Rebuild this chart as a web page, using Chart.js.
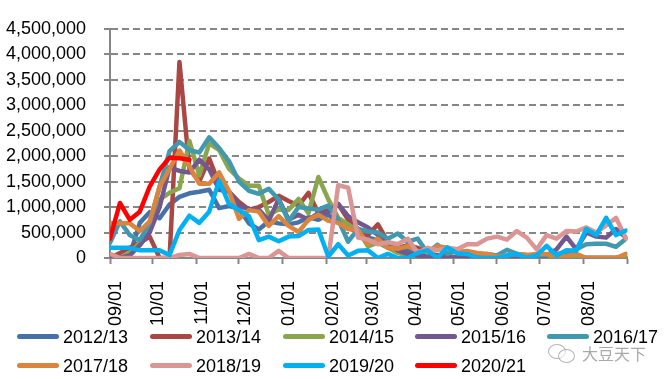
<!DOCTYPE html>
<html>
<head>
<meta charset="utf-8">
<script src="https://cdn.jsdelivr.net/npm/chart.js@4.4.1/dist/chart.umd.min.js"></script>
<style>
  html, body { margin: 0; padding: 0; background: #fff; }
  #wrap { position: relative; width: 666px; height: 379px; overflow: hidden; }
  #c { position: absolute; left: 0; top: 0; }
  .lg { position: absolute; height: 24px; font: 18px "Liberation Sans", Arial, sans-serif; color: #000; white-space: nowrap; }
  .lg .ln { position: absolute; left: 0; top: 9px; width: 42px; height: 5px; border-radius: 3px; }
  .lg .tx { position: absolute; left: 46px; top: 0; line-height: 24px; }
  #wm { position: absolute; left: 546px; top: 340px; width: 110px; height: 26px; color: rgba(140,140,140,0.75); font: 16px "Noto Sans CJK SC", sans-serif; }
  #wm .b1 { position: absolute; left: 2px; top: 4px; width: 16px; height: 13px; border: 1.5px solid rgba(150,150,150,0.7); border-radius: 50%; }
  #wm .b2 { position: absolute; left: 12px; top: 9px; width: 15px; height: 12px; border: 1.5px solid rgba(150,150,150,0.7); border-radius: 50%; background: rgba(255,255,255,0.6); }
  #wm .t { position: absolute; left: 36px; top: 1px; line-height: 24px; }
</style>
</head>
<body>
<div id="wrap">
  <canvas id="c" width="666" height="379"></canvas>
  <div id="legend"></div>
  <div id="wm"><span class="b1"></span><span class="b2"></span><span class="t">大豆天下</span></div>
</div>
<script>
// ---- x categories: day offset of each weekly point from 09/01 ----
const weekDays = [0,7,14,21,28,35,42,49,56,63,70,77,84,91,98,105,112,119,126,133,140,147,154,161,168,175,182,189,196,203,210,217,224,231,238,245,252,259,266,273,280,287,294,301,308,315,322,329,336,343,350,357,364];

// ---- month tick positions (days from 09/01) and labels ----
const monthDays = [0,30,61,91,122,153,181,212,242,273,303,334,365];
const monthLabels = ['09/01','10/01','11/01','12/01','01/01','02/01','03/01','04/01','05/01','06/01','07/01','08/01',''];

// ---- series ----
const seriesNames = ['2012/13','2013/14','2014/15','2015/16','2016/17','2017/18','2018/19','2019/20','2020/21'];
const seriesColors = ['#4572A7','#AA4643','#89A54E','#71588F','#4198AF','#DB843D','#DA9694','#00B0F0','#FF0000'];

const s2012 = [20000,0,50000,690000,900000,780000,1050000,1200000,1270000,1300000,1340000,980000,1020000,970000,680000,560000,720000,680000,660000,700000,800000,750000,850000,700000,600000,500000,400000,350000,300000,200000,150000,100000,80000,50000,30000,20000,10000,20000,10000,0,20000,10000,0,0,10000,0,0,10000,0,0,0,0,0];
const s2013 = [0,100000,200000,300000,420000,0,0,3850000,1750000,1500000,1950000,1450000,1300000,1100000,950000,1000000,1100000,1220000,1120000,1030000,1280000,880000,940000,1060000,750000,570000,450000,660000,320000,200000,250000,200000,100000,50000,20000,0,0,0,0,0,0,0,0,0,0,0,0,0,0,0,0,0,0];
const s2014 = [50000,0,100000,300000,600000,1150000,1280000,1370000,2300000,1620000,2250000,2120000,1750000,1560000,1420000,1420000,850000,950000,940000,1160000,880000,1590000,1150000,790000,660000,540000,230000,300000,200000,100000,50000,30000,20000,0,0,0,0,0,0,0,0,0,0,0,0,0,0,30000,0,0,0,0,0];
const s2015 = [0,0,50000,250000,500000,1000000,1780000,1710000,1680000,1930000,1740000,1340000,1300000,1030000,950000,950000,730000,1160000,750000,850000,750000,880000,900000,1060000,820000,700000,600000,450000,300000,150000,80000,50000,30000,0,0,0,0,0,0,0,0,0,0,0,50000,170000,420000,170000,500000,420000,400000,570000,400000];
const s2016 = [300000,720000,450000,350000,690000,1400000,2100000,2280000,2120000,2070000,2370000,2160000,1900000,1500000,1320000,1260000,1360000,1150000,720000,1000000,970000,950000,1030000,750000,320000,570000,520000,500000,380000,480000,320000,380000,100000,260000,80000,150000,100000,60000,80000,50000,160000,80000,60000,50000,60000,80000,100000,170000,270000,280000,280000,220000,380000];
const s2017 = [680000,680000,680000,530000,720000,1400000,1750000,2110000,1800000,1460000,1460000,1680000,1310000,770000,940000,910000,630000,820000,630000,510000,750000,850000,730000,690000,570000,550000,270000,380000,200000,180000,230000,140000,120000,230000,200000,120000,140000,100000,80000,30000,50000,80000,60000,80000,80000,40000,30000,80000,0,0,0,0,80000];
const s2018 = [80000,0,0,0,0,0,0,60000,80000,0,0,0,0,0,80000,0,0,140000,0,0,0,0,0,1430000,1380000,400000,360000,270000,310000,270000,380000,100000,200000,150000,200000,170000,270000,270000,380000,420000,360000,530000,400000,170000,450000,380000,530000,520000,600000,500000,640000,790000,380000];
const s2019 = [200000,200000,200000,150000,150000,150000,60000,550000,830000,690000,910000,1520000,1060000,940000,820000,350000,420000,330000,420000,430000,550000,560000,30000,270000,50000,140000,150000,0,80000,0,0,100000,150000,0,210000,90000,80000,0,0,0,50000,80000,0,50000,240000,50000,150000,140000,570000,450000,790000,450000,540000];
const s2020 = [380000,1080000,750000,910000,1400000,1740000,1970000,1960000,1930000];

const seriesValues = [s2012,s2013,s2014,s2015,s2016,s2017,s2018,s2019,s2020];

// ---- y ticks ----
const yMin = 0, yMax = 4500000, yStep = 500000;

const FONT = { family: '"Liberation Sans", Arial, sans-serif', size: 18 };
const GREY = '#868686';

const datasets = seriesValues.map((vals, i) => ({
  label: seriesNames[i],
  data: vals.map((v, k) => ({ x: weekDays[k], y: v })),
  borderColor: seriesColors[i],
  backgroundColor: seriesColors[i],
  borderWidth: 4.5,
  pointRadius: 0,
  pointHoverRadius: 0,
  tension: 0,
  borderJoinStyle: 'round',
  borderCapStyle: 'round',
  order: seriesValues.length - 1 - i
}));

const chart = new Chart(document.getElementById('c'), {
  type: 'line',
  data: { datasets },
  options: {
    responsive: false,
    animation: false,
    events: [],
    layout: { padding: { left: 0, right: 15, top: 14, bottom: 51 } },
    plugins: { legend: { display: false }, tooltip: { enabled: false }, title: { display: false } },
    scales: {
      x: {
        type: 'linear',
        min: 0, max: 365,
        afterBuildTicks: (axis) => { axis.ticks = monthDays.map(v => ({ value: v })); },
        afterFit: (s) => { s.height = 70; },
        ticks: {
          autoSkip: false, maxRotation: 90, minRotation: 90,
          font: FONT, color: '#000', padding: 17, labelOffset: 6,
          callback: (v, i) => monthLabels[i]
        },
        grid: { drawOnChartArea: false, drawTicks: true, tickLength: 6, tickColor: GREY, tickWidth: 2, tickBorderDash: [] },
        border: { display: true, color: GREY, width: 2 }
      },
      y: {
        min: yMin, max: yMax,
        afterFit: (s) => { s.width = 110; },
        ticks: {
          stepSize: yStep, font: FONT, color: '#000', padding: 18,
          callback: (v) => Number(v).toLocaleString('en-US')
        },
        grid: {
          color: (ctx) => (ctx.tick && ctx.tick.value === 0) ? 'rgba(0,0,0,0)' : GREY,
          lineWidth: 2, drawTicks: true, tickLength: 6, tickColor: GREY, tickWidth: 2, tickBorderDash: []
        },
        border: { display: true, color: GREY, width: 2, dash: [7, 4] }
      }
    }
  }
});

// ---- HTML legend built from the chart datasets ----
const legendEl = document.getElementById('legend');
const colX = [17, 150, 283, 415, 547];
const rowY = [325, 354];
chart.data.datasets.forEach((ds, i) => {
  const item = document.createElement('div');
  item.className = 'lg';
  item.style.left = colX[i % 5] + 'px';
  item.style.top = rowY[Math.floor(i / 5)] + 'px';
  const ln = document.createElement('span');
  ln.className = 'ln';
  ln.style.background = ds.borderColor;
  const tx = document.createElement('span');
  tx.className = 'tx';
  tx.textContent = ds.label;
  item.appendChild(ln); item.appendChild(tx);
  legendEl.appendChild(item);
});
</script>
</body>
</html>
